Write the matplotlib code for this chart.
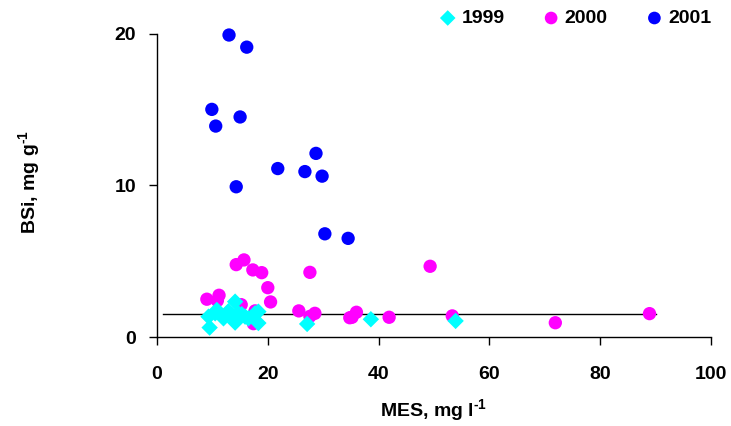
import matplotlib
matplotlib.use("Agg")
import matplotlib.pyplot as plt

plt.rcParams['font.family'] = ['Liberation Sans', 'DejaVu Sans']
plt.rcParams['font.weight'] = 'bold'
plt.rcParams['mathtext.fontset'] = 'custom'
plt.rcParams['mathtext.rm'] = 'Liberation Sans:bold'
plt.rcParams['mathtext.bf'] = 'Liberation Sans:bold'
plt.rcParams['mathtext.it'] = 'Liberation Sans:bold'

# 1999 (cyan diamonds)
x1999 = [9.5, 9.3, 10.5, 10.8, 12.0, 12.9, 13.5, 14.1, 14.1, 14.7, 15.3, 15.9, 16.5, 17.7, 18.3, 18.3, 27.1, 38.6, 53.9]
y1999 = [0.62, 1.34, 1.56, 1.78, 1.23, 1.70, 1.45, 2.33, 0.95, 1.56, 1.50, 1.34, 1.23, 1.56, 0.92, 1.67, 0.86, 1.17, 1.06]

# 2000 (magenta circles)
x2000 = [9.0, 10.9, 11.2, 14.3, 15.2, 15.7, 17.3, 17.4, 17.7, 18.9, 20.0, 20.5,
         25.6, 27.6, 27.6, 28.5, 34.8, 35.2, 36.0, 41.9, 49.3, 53.3, 71.9, 88.9]
y2000 = [2.49, 2.40, 2.75, 4.77, 2.13, 5.08, 4.42, 0.88, 1.72, 4.24, 3.25, 2.31,
         1.72, 1.36, 4.26, 1.56, 1.27, 1.30, 1.63, 1.30, 4.66, 1.39, 0.94, 1.54]

# 2001 (blue circles)
x2001 = [13.0, 16.2, 9.9, 10.6, 15.0, 14.3, 21.8, 26.7, 28.7, 29.8, 30.3, 34.5]
y2001 = [19.9, 19.1, 15.0, 13.9, 14.5, 9.9, 11.1, 10.9, 12.1, 10.6, 6.8, 6.5]

# reference line
line_x = [1, 90]
line_y = [1.5, 1.5]

xticks = [0, 20, 40, 60, 80, 100]
yticks = [0, 10, 20]

fig = plt.figure(figsize=(7.31, 4.26), dpi=100)
ax = fig.add_axes([157/731, (426-337)/426, (711-157)/731, (337-33.5)/426])

ax.plot(line_x, line_y, color='black', lw=1.0, zorder=1)
ax.scatter(x1999, y1999, marker='D', s=70, color='#00FFFF', edgecolors='none', label='1999', zorder=3, clip_on=False)
ax.scatter(x2000, y2000, marker='o', s=92, color='#FF00FF', edgecolors='none', label='2000', zorder=2, clip_on=False)
ax.scatter(x2001, y2001, marker='o', s=92, color='#0000FF', edgecolors='none', label='2001', zorder=2, clip_on=False)

ax.set_xlim(0, 100)
ax.set_ylim(0, 20)
ax.set_xticks(xticks)
ax.set_yticks(yticks)
ax.spines['top'].set_visible(False)
ax.spines['right'].set_visible(False)
for s in ['left', 'bottom']:
    ax.spines[s].set_linewidth(1.0)
ax.tick_params(axis='both', direction='out', length=6, width=1, labelsize=14)
ax.tick_params(axis='x', pad=15)
ax.tick_params(axis='y', pad=9)
for lab in ax.get_xticklabels() + ax.get_yticklabels():
    lab.set_fontweight('bold')

ax.set_xlabel(r'MES, mg l$^{\text{-}1}$', fontsize=14, fontweight='bold', labelpad=10)
ax.set_ylabel(r'BSi, mg g$^{\text{-}1}$', fontsize=14, fontweight='bold')
ax.yaxis.set_label_coords((42 - 157) / 554, 0.51)

leg = fig.legend(loc='center left', bbox_to_anchor=(438/731, 1 - 18.3/426), ncol=3, frameon=False,
                 handlelength=1.0, handletextpad=0.2, columnspacing=1.9, borderpad=0,
                 borderaxespad=0, markerscale=0.95,
                 prop={'weight': 'bold', 'size': 14})

fig.savefig('out.png', dpi=100)
